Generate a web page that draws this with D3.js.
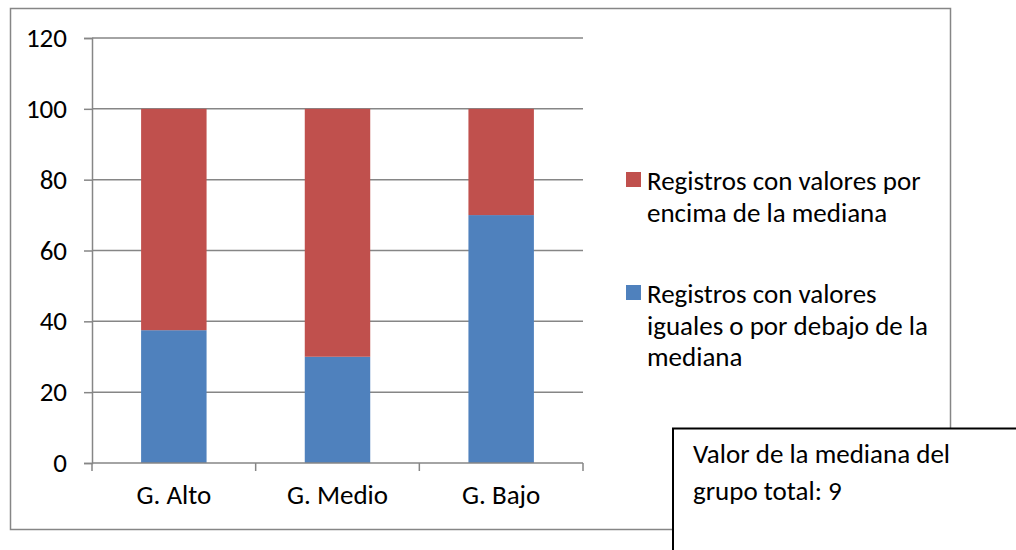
<!DOCTYPE html>
<html>
<head>
<meta charset="utf-8">
<script src="https://cdn.jsdelivr.net/npm/d3@7.9.0/dist/d3.min.js"></script>
<style>
  body { margin: 0; background: #fff; }
  svg text { font-family: Carlito, Lato, "Open Sans", sans-serif; fill: #000; }
</style>
</head>
<body>
<div id="chart"></div>
<script>
// data
const groups = ["G. Alto", "G. Medio", "G. Bajo"];
const below = [37.5, 30, 70];   // iguales o por debajo de la mediana
const above = [62.5, 70, 30];   // por encima de la mediana
const yTicks = [0, 20, 40, 60, 80, 100, 120];
const seriesNames = [
  ["Registros con valores por", "encima de la mediana"],
  ["Registros con valores", "iguales o por debajo de la", "mediana"]
];
const noteLines = ["Valor de la mediana del", "grupo total: 9"];

const red = "#C0504D", blue = "#4F81BD", gridCol = "#868686";
const fs = 27;

let svg = d3.select("#chart")
    .append("svg")
    .attr("width", 1016)
    .attr("height", 550);

// outer chart frame
svg.append("rect")
    .attr("x", 10.5).attr("y", 8.5)
    .attr("width", 940).attr("height", 521)
    .attr("fill", "#fff")
    .attr("stroke", gridCol).attr("stroke-width", 1.5);

let plot = {left: 92, right: 583, top: 38, bottom: 463};

let y = d3.scaleLinear().domain([0, 120]).range([plot.bottom, plot.top]);
let x = d3.scaleBand().domain(groups).range([plot.left, plot.right]).paddingInner(0.6).paddingOuter(0.3);
let xb = d3.scaleBand().domain(groups).range([plot.left, plot.right]);

// gridlines
svg.append("g")
    .selectAll("line")
    .data(yTicks.filter(d => d > 0))
    .join("line")
    .attr("x1", plot.left).attr("x2", plot.right)
    .attr("y1", d => y(d)).attr("y2", d => y(d))
    .attr("stroke", gridCol).attr("stroke-width", 1.5);

// bars
let stack = groups.map((g, i) => ({g, b: below[i], a: above[i]}));
svg.append("g").selectAll("rect")
    .data(stack)
    .join("rect")
    .attr("x", d => x(d.g)).attr("width", x.bandwidth())
    .attr("y", d => y(d.b)).attr("height", d => y(0) - y(d.b))
    .attr("fill", blue);
svg.append("g").selectAll("rect")
    .data(stack)
    .join("rect")
    .attr("x", d => x(d.g)).attr("width", x.bandwidth())
    .attr("y", d => y(d.b + d.a)).attr("height", d => y(d.b) - y(d.b + d.a))
    .attr("fill", red);

// y axis
let yAxis = svg.append("g")
    .attr("transform", `translate(${plot.left},0)`)
    .call(d3.axisLeft(y).tickValues(yTicks).tickSize(8).tickPadding(17));
yAxis.attr("font-family", null).attr("font-size", fs);
yAxis.select(".domain").attr("stroke", gridCol).attr("stroke-width", 1.5);
yAxis.selectAll(".tick line").attr("stroke", gridCol).attr("stroke-width", 1.5);

// x axis
let xAxis = svg.append("g")
    .attr("transform", `translate(0,${plot.bottom})`)
    .call(d3.axisBottom(x).tickSize(0).tickPadding(22));
xAxis.attr("font-family", null).attr("font-size", fs);
xAxis.select(".domain").attr("d", `M${plot.left},0H${plot.right}`)
    .attr("stroke", gridCol).attr("stroke-width", 1.5);
xAxis.selectAll(".bound")
    .data(groups.map(g => xb(g)).concat([plot.right]))
    .join("line")
    .attr("x1", d => d).attr("x2", d => d)
    .attr("y1", 0).attr("y2", 8)
    .attr("stroke", gridCol).attr("stroke-width", 1.5);

// legend
let legend = svg.append("g");
let legendTops = [172, 285];
[red, blue].forEach((c, i) => {
  let g = legend.append("g").attr("transform", `translate(626,${legendTops[i]})`);
  g.append("rect").attr("width", 15).attr("height", 15).attr("fill", c);
  g.selectAll("text")
    .data(seriesNames[i])
    .join("text")
    .attr("x", 21)
    .attr("y", (d, k) => 18 + k * 31.5)
    .attr("font-size", fs)
    .text(d => d);
});

// note box
svg.append("rect")
    .attr("x", 673).attr("y", 428.5)
    .attr("width", 400).attr("height", 200)
    .attr("fill", "#fff")
    .attr("stroke", "#000").attr("stroke-width", 2);
svg.append("g").selectAll("text")
    .data(noteLines)
    .join("text")
    .attr("x", 693)
    .attr("y", (d, i) => 463 + i * 37)
    .attr("font-size", fs)
    .text(d => d);
</script>
</body>
</html>
